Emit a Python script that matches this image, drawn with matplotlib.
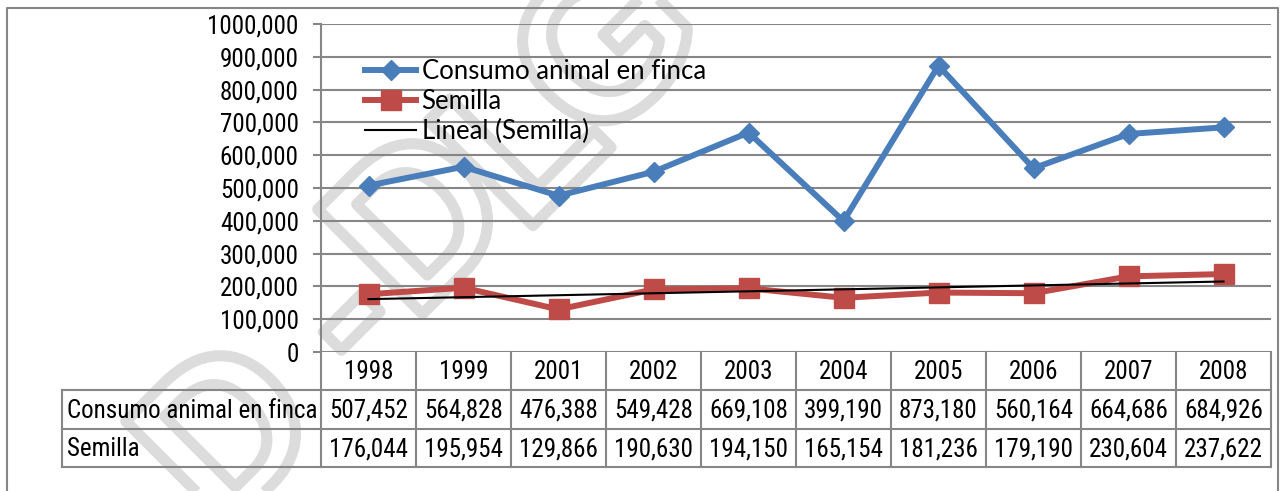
import matplotlib
matplotlib.use("Agg")
import matplotlib.pyplot as plt
import matplotlib.patheffects as pe
from matplotlib import font_manager as fm
import numpy as np

years = ['1998', '1999', '2001', '2002', '2003', '2004', '2005', '2006', '2007', '2008']
consumo = [507452, 564828, 476388, 549428, 669108, 399190, 873180, 560164, 664686, 684926]
semilla = [176044, 195954, 129866, 190630, 194150, 165154, 181236, 179190, 230604, 237622]
series_names = ['Consumo animal en finca', 'Semilla']
trend_name = 'Lineal (Semilla)'
ytick_vals = [0, 100000, 200000, 300000, 400000, 500000, 600000, 700000, 800000, 900000, 1000000]
ytick_labels = ['0', '100,000', '200,000', '300,000', '400,000', '500,000',
                '600,000', '700,000', '800,000', '900,000', '1000,000']
watermark = [('D', 236, 442), ('-', 352, 322), ('D', 428, 230), ('L', 530, 150), ('G', 615, 55)]

names = {f.name for f in fm.fontManager.ttflist}
NARROW, FS = 'Liberation Sans', 16.5
for cand in ['Liberation Sans Narrow', 'Arial Narrow', 'DejaVu Sans Condensed',
             'Roboto Condensed', 'Open Sans Condensed']:
    if cand in names:
        NARROW, FS = cand, 18
        break
LEG = 'Lato' if 'Lato' in names else 'DejaVu Sans'

BLUE = '#4A7EBB'
RED = '#BE4B48'
GRAY = '#868686'

W, H = 1281, 491
fig = plt.figure(figsize=(W / 100, H / 100), dpi=100)

# background axes in pixel coords: frame, watermark, data table
bg = fig.add_axes([0, 0, 1, 1], zorder=0)
bg.set_xlim(0, W)
bg.set_ylim(H, 0)
bg.axis('off')

ax = fig.add_axes([321 / W, 1 - 352 / H, 950 / W, 328 / H], zorder=1)
ax.patch.set_alpha(0)

x = np.arange(len(years)) + 0.5
ax.plot(x, consumo, color=BLUE, lw=4.3, marker='D', ms=10, label=series_names[0], zorder=3)
ax.plot(x, semilla, color=RED, lw=4.3, marker='s', ms=14, label=series_names[1], zorder=3)
t = np.arange(1, len(years) + 1)
k, b = np.polyfit(t, semilla, 1)
ax.plot(x, k * t + b, color='black', lw=1.5, label=trend_name, zorder=4)

ax.set_xlim(0, len(years))
ax.set_ylim(0, 1000000)
ax.set_xticks([])
ax.set_yticks(ytick_vals)
ax.set_yticklabels(ytick_labels, fontsize=FS, family=NARROW)
ax.tick_params(axis='y', length=6, width=1.5, color=GRAY, pad=10)
ax.yaxis.grid(True, color=GRAY, lw=1.5)
ax.set_axisbelow(True)
for s in ['top', 'right', 'bottom']:
    ax.spines[s].set_visible(False)
ax.spines['left'].set_color(GRAY)
ax.spines['left'].set_linewidth(1.5)

ax.legend(loc='upper left', bbox_to_anchor=(365 / W, 1 - 59 / H), bbox_transform=fig.transFigure,
          frameon=False, prop={'family': LEG, 'size': 18.5}, handlelength=2.0,
          handletextpad=0.2, labelspacing=0.2, borderpad=0, borderaxespad=0)

# watermark
for ch, wx, wy in watermark:
    bg.text(wx, wy, ch, fontsize=155, family='Liberation Sans', weight='bold', rotation=45,
            ha='center', va='center', rotation_mode='anchor', color='none', zorder=0,
            path_effects=[pe.Stroke(linewidth=8, foreground='#dcdcdc')])

# outer frame
bg.plot([7, 7, 1278, 1278], [H, 8, 8, H], color=GRAY, lw=1.5, zorder=2)

# data table under the axis
fig.canvas.draw()
edges = [ax.transData.transform((i, 0))[0] for i in range(len(years) + 1)]
y_axis = H - ax.transData.transform((0, 0))[1]
rows = [y_axis, 390, 429, 467]
lab_left = 62
for xe in edges:
    bg.plot([xe, xe], [y_axis, rows[-1]], color=GRAY, lw=1.5, zorder=2)
bg.plot([lab_left, lab_left], [rows[1], rows[-1]], color=GRAY, lw=1.5, zorder=2)
for yr in rows[1:]:
    bg.plot([lab_left, edges[-1]], [yr, yr], color=GRAY, lw=1.5, zorder=2)

for i, yv in enumerate(years):
    cx = (edges[i] + edges[i + 1]) / 2
    bg.text(cx, (rows[0] + rows[1]) / 2 + 1, yv, ha='center', va='center', fontsize=FS, family=NARROW)
    bg.text(cx, (rows[1] + rows[2]) / 2 + 1, f'{consumo[i]:,}', ha='center', va='center', fontsize=FS, family=NARROW)
    bg.text(cx, (rows[2] + rows[3]) / 2 + 1, f'{semilla[i]:,}', ha='center', va='center', fontsize=FS, family=NARROW)
bg.text(lab_left + 5, (rows[1] + rows[2]) / 2 + 1, series_names[0], ha='left', va='center', fontsize=FS, family=NARROW)
bg.text(lab_left + 5, (rows[2] + rows[3]) / 2 + 1, series_names[1], ha='left', va='center', fontsize=FS, family=NARROW)

fig.savefig('out.png', dpi=100)
